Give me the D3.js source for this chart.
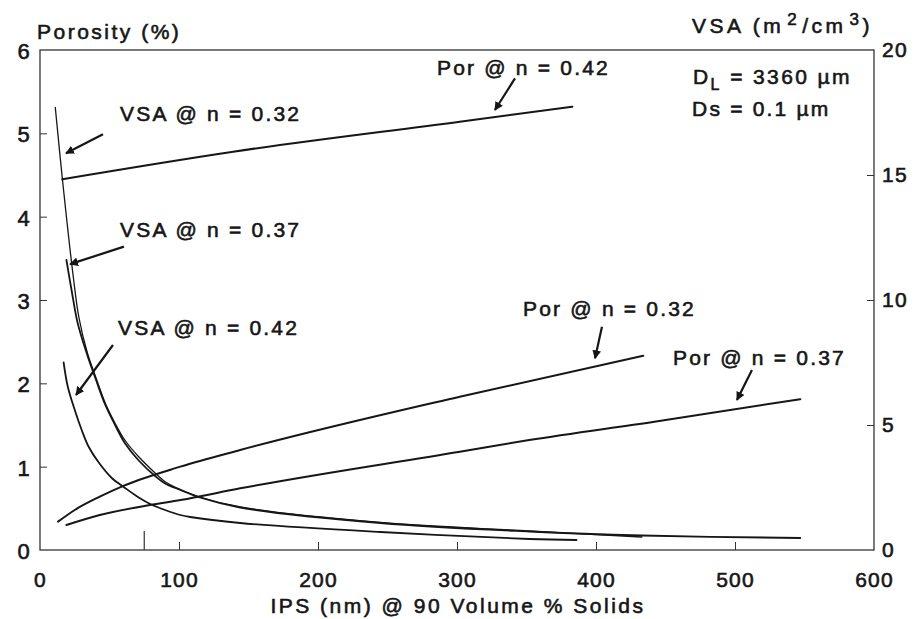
<!DOCTYPE html>
<html>
<head>
<meta charset="utf-8">
<script src="https://cdn.jsdelivr.net/npm/d3@7"></script>
<style>
  body { margin: 0; background: #fff; }
  svg text { font-family: "Liberation Sans", Arial, sans-serif; fill: #161616; }
</style>
</head>
<body>
<svg id="chart" width="915" height="619"></svg>
<script>
// IPS (nm) values and readings, one pair of arrays per curve
var ipsPor032 = [13, 25, 43, 60, 101, 144, 302, 434];
var por032 = [0.34, 0.48, 0.64, 0.77, 1.0, 1.2, 1.84, 2.33];

var ipsPor037 = [19, 43, 79, 101, 144, 302, 352, 442, 547];
var por037 = [0.30, 0.42, 0.54, 0.6, 0.74, 1.18, 1.32, 1.54, 1.81];

var ipsPor042 = [16, 139, 302, 383];
var por042 = [4.45, 4.78, 5.14, 5.32];

var ipsVsa032 = [11, 16, 24, 28, 34, 40, 47, 54, 61, 71, 83, 90, 101, 115, 144, 245, 352, 433];
var vsa032 = [17.7, 14.9, 10.9, 9.3, 7.9, 6.93, 5.87, 5.07, 4.4, 3.73, 3.07, 2.73, 2.42, 2.12, 1.72, 1.1, 0.76, 0.52];

var ipsVsa037 = [19, 23, 27, 34, 40, 47, 54, 61, 71, 83, 90, 101, 115, 144, 245, 352, 433, 547];
var vsa037 = [11.6, 10.3, 9.1, 7.8, 6.85, 5.8, 5.0, 4.28, 3.58, 2.95, 2.66, 2.4, 2.1, 1.7, 1.08, 0.74, 0.58, 0.48];

var ipsVsa042 = [17, 20, 25, 30, 35, 42, 52, 60, 71, 80, 90, 101, 108, 144, 245, 352, 386];
var vsa042 = [7.5, 6.53, 5.6, 4.8, 4.13, 3.52, 2.86, 2.53, 2.1, 1.82, 1.6, 1.4, 1.32, 1.08, 0.72, 0.44, 0.40];

var xTicks = [0, 100, 200, 300, 400, 500, 600];
var porTicks = [0, 1, 2, 3, 4, 5, 6];
var vsaTicks = [0, 5, 10, 15, 20];
var markIps = 75;

var margin = {top: 50, right: 41, bottom: 69, left: 40};
var width = 915 - margin.left - margin.right;
var height = 619 - margin.top - margin.bottom;
var ink = '#161616';

var svg = d3.select('#chart');
var g = svg.append('g')
    .attr('transform', 'translate(' + margin.left + ',' + margin.top + ')');

var x = d3.scaleLinear().domain([0, 600]).range([0, width]);
var yPor = d3.scaleLinear().domain([0, 6]).range([height, 0]);
var yVsa = d3.scaleLinear().domain([0, 20]).range([height, 0]);

/**
 * axes with inward ticks
 */
var styleAxis = function (sel) {
    sel.select('.domain').remove();
    sel.selectAll('line').attr('stroke', '#333').attr('stroke-width', 1);
    sel.selectAll('text')
        .style('font-size', '21px')
        .style('letter-spacing', '1.2px')
        .attr('fill', ink)
        .attr('stroke', ink)
        .attr('stroke-width', 0.6);
};

g.append('g')
    .call(d3.axisLeft(yPor).tickValues(porTicks).tickSizeInner(-7).tickSizeOuter(0).tickPadding(9)
        .tickFormat(d3.format('d')))
    .call(styleAxis)
    .call(function (sel) {
        sel.selectAll('.tick line').filter(function (d) { return d === 0 || d === 6; }).remove();
        sel.selectAll('text').style('font-size', '22px').attr('dy', '0.38em');
    });

g.append('g')
    .attr('transform', 'translate(' + width + ',0)')
    .call(d3.axisRight(yVsa).tickValues(vsaTicks).tickSizeInner(-7).tickSizeOuter(0).tickPadding(8)
        .tickFormat(d3.format('d')))
    .call(styleAxis)
    .call(function (sel) {
        sel.selectAll('.tick line').filter(function (d) { return d === 0 || d === 20; }).remove();
    });

g.append('g')
    .attr('transform', 'translate(0,' + height + ')')
    .call(d3.axisBottom(x).tickValues(xTicks).tickSizeInner(-8).tickSizeOuter(0).tickPadding(22)
        .tickFormat(d3.format('d')))
    .call(styleAxis)
    .call(function (sel) {
        sel.selectAll('.tick line').filter(function (d) { return d === 0 || d === 600; }).remove();
    });

// frame
g.append('rect')
    .attr('width', width)
    .attr('height', height)
    .attr('fill', 'none')
    .attr('stroke', '#333')
    .attr('stroke-width', 1.3);

// stray tall tick on the x axis
g.append('line')
    .attr('x1', x(markIps)).attr('x2', x(markIps))
    .attr('y1', height).attr('y2', height - 19)
    .attr('stroke', '#333').attr('stroke-width', 1.2);

/**
 * draw one curve from an x array and a y array on a given scale
 */
var drawCurve = function (xs, ys, yScale, w, curve) {
    var pts = xs.map(function (v, i) { return [v, ys[i]]; });
    var line = d3.line()
        .x(function (d) { return x(d[0]); })
        .y(function (d) { return yScale(d[1]); })
        .curve(curve);
    g.append('path')
        .datum(pts)
        .attr('d', line)
        .attr('fill', 'none')
        .attr('stroke', ink)
        .attr('stroke-width', w)
        .attr('stroke-linecap', 'round');
};

var smooth = d3.curveCatmullRom.alpha(0.5);
drawCurve(ipsPor032, por032, yPor, 2, d3.curveMonotoneX);
drawCurve(ipsPor037, por037, yPor, 2, d3.curveMonotoneX);
drawCurve(ipsPor042, por042, yPor, 2, d3.curveMonotoneX);
drawCurve(ipsVsa032, vsa032, yVsa, 1.3, smooth);
drawCurve(ipsVsa037, vsa037, yVsa, 1.8, smooth);
drawCurve(ipsVsa042, vsa042, yVsa, 1.8, smooth);

// annotation labels, anchored in data units (IPS, porosity)
var labelStyle = function (sel, size, spacing) {
    sel.style('font-size', size + 'px')
        .style('letter-spacing', spacing + 'px')
        .attr('stroke', ink)
        .attr('stroke-width', 0.6);
};

var notes = [
    {text: 'Por @ n = 0.42', at: [285.6, 5.70], from: [341.7, 5.66], to: [327.3, 5.28]},
    {text: 'VSA @ n = 0.32', at: [57.6, 5.15], from: [45.3, 4.99], to: [18.7, 4.76]},
    {text: 'VSA @ n = 0.37', at: [57.6, 3.76], from: [60.4, 3.64], to: [21.6, 3.43]},
    {text: 'VSA @ n = 0.42', at: [56.1, 2.58], from: [52.5, 2.46], to: [25.9, 1.86]},
    {text: 'Por @ n = 0.32', at: [347.5, 2.81], from: [404.3, 2.68], to: [399.3, 2.30]},
    {text: 'Por @ n = 0.37', at: [455.4, 2.22], from: [512.2, 2.16], to: [501.4, 1.80]}
];

svg.append('defs').append('marker')
    .attr('id', 'head')
    .attr('viewBox', '0 0 10 10')
    .attr('refX', 9).attr('refY', 5)
    .attr('markerWidth', 4).attr('markerHeight', 4)
    .attr('orient', 'auto')
    .append('path')
    .attr('d', 'M0,0 L10,5 L0,10 z')
    .attr('fill', ink);

notes.forEach(function (n) {
    g.append('text')
        .attr('x', x(n.at[0]))
        .attr('y', yPor(n.at[1]))
        .text(n.text)
        .call(labelStyle, 21, 2.2);
    g.append('line')
        .attr('x1', x(n.from[0])).attr('y1', yPor(n.from[1]))
        .attr('x2', x(n.to[0])).attr('y2', yPor(n.to[1]))
        .attr('stroke', ink)
        .attr('stroke-width', 2.2)
        .attr('marker-end', 'url(#head)');
});

// D_L and Ds note
var dl = g.append('text')
    .attr('x', x(469.8)).attr('y', yPor(5.59))
    .call(labelStyle, 21, 2.4);
dl.append('tspan').text('D');
dl.append('tspan').text('L').attr('dy', 6).style('font-size', '16px');
dl.append('tspan').text(' = 3360 \u00b5m').attr('dy', -6);

g.append('text')
    .attr('x', x(469.1)).attr('y', yPor(5.21))
    .text('Ds = 0.1 \u00b5m')
    .call(labelStyle, 21, 2.2);

// axis titles
svg.append('text')
    .attr('x', 37).attr('y', 39)
    .text('Porosity (%)')
    .call(labelStyle, 21, 2.5);

var vt = svg.append('text')
    .attr('x', 873).attr('y', 33)
    .attr('text-anchor', 'end')
    .call(labelStyle, 21, 3.5);
vt.append('tspan').text('VSA (m');
vt.append('tspan').text('2').attr('dx', 3).attr('dy', -8).style('font-size', '17px');
vt.append('tspan').text('/cm').attr('dx', 2).attr('dy', 8);
vt.append('tspan').text('3').attr('dx', 3).attr('dy', -8).style('font-size', '17px');
vt.append('tspan').text(')').attr('dy', 8);

svg.append('text')
    .attr('x', margin.left + x(300) + 1).attr('y', 613)
    .attr('text-anchor', 'middle')
    .text('IPS (nm) @ 90 Volume % Solids')
    .call(labelStyle, 21, 2.5);
</script>
</body>
</html>
